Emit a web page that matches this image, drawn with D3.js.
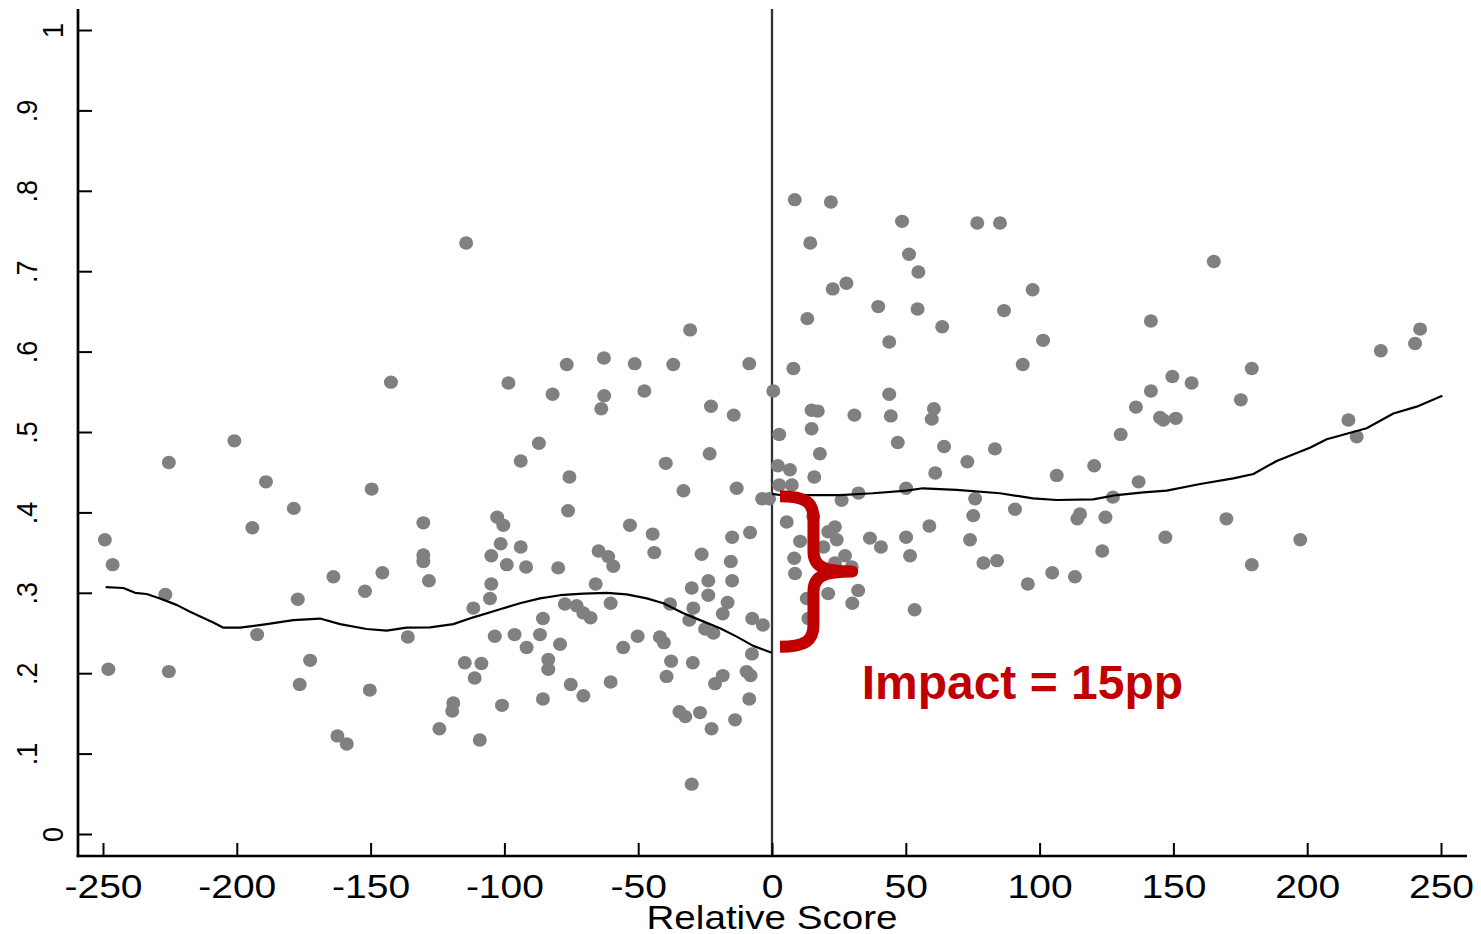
<!DOCTYPE html>
<html>
<head>
<meta charset="utf-8">
<script src="https://cdn.jsdelivr.net/npm/d3@7"></script>
<style>
  body { margin: 0; background: #fff; }
  svg { display: block; }
  text { font-family: "Liberation Sans", Arial, sans-serif; }
</style>
</head>
<body>
<script>
// tick values / labels
var xTicks = [-250, -200, -150, -100, -50, 0, 50, 100, 150, 200, 250];
var yTicks = [0, .1, .2, .3, .4, .5, .6, .7, .8, .9, 1];
var yTickLabels = ["0", ".1", ".2", ".3", ".4", ".5", ".6", ".7", ".8", ".9", "1"];
var xTitle = "Relative Score";
var impactLabel = "Impact = 15pp";

// binned means, left of the cutoff (relative score, share)
var pointsLeft = [
  [-249.3,.366],[-246.4,.335],[-248.0,.205],[-225.4,.202],[-226.7,.298],[-225.4,.462],[-200.9,.489],
  [-189.1,.438],[-194.2,.381],[-192.4,.248],[-178.7,.405],[-177.2,.292],[-176.5,.186],[-172.6,.216],
  [-163.9,.320],[-162.4,.122],[-158.9,.112],[-152.1,.302],[-150.3,.179],[-149.6,.429],[-145.6,.325],
  [-142.4,.562],[-136.1,.245],[-130.3,.387],[-130.3,.347],[-130.3,.339],[-128.2,.315],[-124.3,.131],
  [-119.1,.163],[-119.5,.153],[-114.3,.735],[-114.8,.213],[-108.6,.212],[-111.1,.194],[-109.2,.117],
  [-111.6,.281],[-105.4,.293],[-104.9,.311],[-104.9,.346],[-103.6,.246],[-102.7,.394],[-100.4,.384],
  [-101.4,.361],[-99.1,.335],[-98.5,.561],[-100.9,.160],[-96.2,.248],[-93.9,.357],[-93.9,.464],
  [-91.9,.332],[-91.7,.232],[-87.1,.486],[-85.6,.268],[-86.7,.248],[-85.6,.168],[-82.0,.547],
  [-76.7,.584],[-75.7,.444],[-76.2,.402],[-79.9,.331],[-77.4,.286],[-73.0,.284],[-70.5,.275],
  [-67.8,.269],[-79.2,.236],[-83.6,.217],[-83.6,.205],[-75.2,.186],[-70.5,.172],[-64.8,.352],
  [-61.2,.345],[-59.3,.333],[-65.9,.311],[-60.3,.287],[-60.3,.189],[-62.8,.592],[-62.7,.545],
  [-63.8,.529],[-51.3,.585],[-47.7,.551],[-53.1,.384],[-55.6,.232],[-50.2,.246],[-44.6,.373],
  [-44.0,.350],[-41.9,.245],[-40.4,.238],[-39.7,.461],[-36.9,.584],[-38.1,.286],[-37.7,.215],
  [-39.4,.196],[-33.1,.427],[-30.6,.627],[-30.0,.306],[-29.4,.281],[-30.9,.266],[-29.6,.213],
  [-34.6,.152],[-32.4,.146],[-26.9,.151],[-30.0,.062],[-22.6,.131],[-26.3,.348],[-23.8,.315],
  [-23.8,.297],[-25.0,.255],[-21.9,.250],[-22.8,.532],[-23.3,.473],[-18.4,.197],[-21.3,.187],
  [-14.3,.521],[-13.2,.430],[-14.9,.369],[-8.2,.375],[-15.4,.339],[-14.9,.315],[-16.6,.288],
  [-18.4,.274],[-13.8,.142],[-8.5,.585],[-7.4,.268],[-3.4,.260],[-7.5,.224],[-9.5,.202],
  [-8.0,.197],[-8.5,.168],[-3.7,.417],[-1.1,.417]
];

// binned means, right of the cutoff
var pointsRight = [
  [8.5,.789],[22.0,.786],[48.6,.762],[76.7,.760],[85.2,.760],[14.3,.735],[51.2,.721],[54.7,.699],
  [22.7,.678],[27.8,.685],[39.7,.656],[54.4,.653],[86.7,.651],[13.2,.641],[63.6,.631],[43.8,.612],
  [8.0,.579],[0.5,.551],[43.8,.547],[14.8,.527],[17.1,.526],[30.8,.521],[44.4,.520],[60.5,.529],
  [59.7,.516],[2.7,.497],[14.8,.504],[47.0,.487],[64.3,.482],[83.3,.479],[17.9,.473],[2.2,.458],
  [6.7,.453],[15.8,.444],[61.0,.449],[73.0,.463],[2.7,.434],[7.4,.434],[50.1,.430],[32.3,.424],
  [26.0,.415],[75.9,.417],[5.5,.388],[15.4,.395],[23.5,.382],[21.0,.376],[24.2,.366],[10.5,.364],
  [19.2,.357],[36.6,.368],[40.7,.357],[8.3,.343],[27.3,.346],[23.5,.337],[29.8,.332],[8.6,.324],
  [21.0,.299],[32.2,.303],[30.0,.287],[13.0,.293],[13.6,.268],[50.1,.369],[51.6,.346],[58.8,.383],
  [53.3,.279],[75.2,.396],[74.0,.366],[79.0,.337],[84.1,.340],[165.1,.712],[97.4,.677],[141.6,.638],
  [101.3,.614],[93.7,.584],[242.2,.628],[240.3,.610],[227.5,.601],[179.3,.579],[149.6,.569],
  [156.8,.561],[141.6,.551],[136.0,.531],[175.2,.540],[145.0,.518],[150.9,.517],[146.2,.515],
  [130.3,.497],[215.4,.515],[218.5,.494],[106.4,.446],[120.4,.458],[137.0,.438],[127.4,.419],
  [90.8,.404],[115.1,.398],[114.1,.392],[124.6,.394],[147.0,.369],[169.8,.392],[197.4,.366],
  [123.4,.352],[104.7,.325],[113.2,.320],[95.6,.311],[179.3,.335]
];

// local smooth on each side
var fitLeft = [
  [-249,.307],[-242.4,.306],[-238,.300],[-233.7,.2985],[-228.7,.293],[-222.5,.285],[-217.5,.2765],
  [-208.8,.263],[-205,.2566],[-198.8,.2566],[-188.8,.261],[-178.9,.266],[-168.9,.268],[-161.4,.261],
  [-151.5,.255],[-144,.253],[-136.5,.2566],[-127.8,.257],[-119.1,.261],[-111.6,.2695],[-101.6,.2795],
  [-94.2,.287],[-86.7,.293],[-79.2,.297],[-70.5,.299],[-61.8,.300],[-54.3,.298],[-46.8,.293],
  [-40.6,.287],[-33.1,.2745],[-26.9,.266],[-19.4,.256],[-13.2,.2455],[-7,.234],[-0.1,.2255]
];
var fitRight = [
  [0,.423],[3,.4216],[25.4,.4216],[37.7,.4238],[50.3,.427],[56.4,.430],[69,.428],[85.2,.4238],
  [97.5,.4175],[106.4,.4154],[120,.4163],[128.8,.4216],[138.8,.425],[147.5,.427],[160,.4353],
  [172.4,.4424],[179.9,.4478],[188.6,.464],[201,.4805],[207.3,.491],[222.2,.5046],[232.2,.523],
  [240.9,.5315],[250.5,.545]
];

// brace annotation: spans the jump at the cutoff
var braceTop = .42, braceBottom = .233;

var svgWidth = 1481;
var svgHeight = 934;
var red = "#c00000";

var svg = d3.select("body")
  .append("svg")
  .attr("width", svgWidth)
  .attr("height", svgHeight);

var x = d3.scaleLinear().domain([-250, 250]).range([103, 1441]);
var y = d3.scaleLinear().domain([0, 1]).range([834, 30]);

var axisLeftX = 78, axisBottomY = 856, plotTop = 9, plotRight = 1467;

// cutoff line
svg.append("line")
  .attr("x1", x(0)).attr("x2", x(0))
  .attr("y1", plotTop).attr("y2", axisBottomY)
  .attr("stroke", "#333")
  .attr("stroke-width", 2.3);

// scatter
var allPoints = pointsLeft.concat(pointsRight);
svg.append("g")
  .selectAll("ellipse")
  .data(allPoints)
  .enter()
  .append("ellipse")
  .attr("cx", function(d) { return x(d[0]); })
  .attr("cy", function(d) { return y(d[1]); })
  .attr("rx", 7)
  .attr("ry", 6.7)
  .attr("fill", "#808080");

// fitted lines
var line = d3.line()
  .x(function(d) { return x(d[0]); })
  .y(function(d) { return y(d[1]); });

[fitLeft, fitRight].forEach(function(fit) {
  svg.append("path")
    .datum(fit)
    .attr("fill", "none")
    .attr("stroke", "#000")
    .attr("stroke-width", 2.2)
    .attr("stroke-linejoin", "round")
    .attr("d", line);
});

// x axis (plain hyphen for negatives, like the original)
var xAxis = d3.axisBottom(x)
  .tickValues(xTicks)
  .tickFormat(function(d) { return String(d); })
  .tickSize(-13)
  .tickSizeOuter(0);

var gx = svg.append("g")
  .attr("transform", "translate(0," + axisBottomY + ")")
  .call(xAxis);
gx.select(".domain").remove();
gx.selectAll(".tick line").attr("stroke", "#000").attr("stroke-width", 2);
gx.selectAll(".tick text")
  .attr("y", 42)
  .attr("dy", null)
  .attr("transform", "scale(1.2,1)")
  .attr("fill", "#000")
  .style("font-size", "32.5px")
  .style("font-family", '"Liberation Sans", Arial, sans-serif');

// y axis
var yAxis = d3.axisLeft(y)
  .tickValues(yTicks)
  .tickFormat(function(d, i) { return yTickLabels[i]; })
  .tickSize(-14)
  .tickSizeOuter(0);

var gy = svg.append("g")
  .attr("transform", "translate(" + axisLeftX + ",0)")
  .call(yAxis);
gy.select(".domain").remove();
gy.selectAll(".tick line").attr("stroke", "#000").attr("stroke-width", 2);
gy.selectAll(".tick text")
  .attr("x", 0)
  .attr("y", 0)
  .attr("dy", null)
  .attr("text-anchor", "middle")
  .attr("transform", function(d, i) {
    var base = yTickLabels[i].indexOf(".") >= 0 ? 37 : 63;
    return "translate(" + (base - axisLeftX) + ",0) scale(1.12,1) rotate(-90)";
  })
  .attr("fill", "#000")
  .style("font-size", "27px")
  .style("font-family", '"Liberation Sans", Arial, sans-serif');

// axis lines
svg.append("line")
  .attr("x1", axisLeftX).attr("x2", axisLeftX)
  .attr("y1", plotTop).attr("y2", axisBottomY + 1.3)
  .attr("stroke", "#000").attr("stroke-width", 2.7);
svg.append("line")
  .attr("x1", axisLeftX - 1.3).attr("x2", plotRight)
  .attr("y1", axisBottomY).attr("y2", axisBottomY)
  .attr("stroke", "#000").attr("stroke-width", 2.7);

// x title
svg.append("text")
  .attr("transform", "translate(" + x(0) + ",929) scale(1.17,1)")
  .attr("text-anchor", "middle")
  .style("font-size", "33px")
  .text(xTitle);

// brace
var bx0 = x(3), bxv = x(15.5), bxt = x(30);
var by0 = y(braceTop), by1 = y(braceBottom), bym = (by0 + by1) / 2;
var bp = d3.path();
bp.moveTo(bx0, by0);
bp.bezierCurveTo(bxv - 8, by0, bxv, by0 + 6, bxv, by0 + 22);
bp.lineTo(bxv, bym - 20);
bp.bezierCurveTo(bxv, bym - 5, bxv + 10, bym, bxt, bym);
bp.bezierCurveTo(bxv + 10, bym, bxv, bym + 5, bxv, bym + 20);
bp.lineTo(bxv, by1 - 22);
bp.bezierCurveTo(bxv, by1 - 6, bxv - 8, by1, bx0, by1);

svg.append("path")
  .attr("d", bp.toString())
  .attr("fill", "none")
  .attr("stroke", red)
  .attr("stroke-width", 12)
  .attr("stroke-linejoin", "round")
  .attr("stroke-linecap", "butt");

svg.append("text")
  .attr("x", x(33.5))
  .attr("y", y(.168))
  .attr("fill", red)
  .style("font-size", "48px")
  .style("font-weight", "bold")
  .text(impactLabel);
</script>
</body>
</html>
